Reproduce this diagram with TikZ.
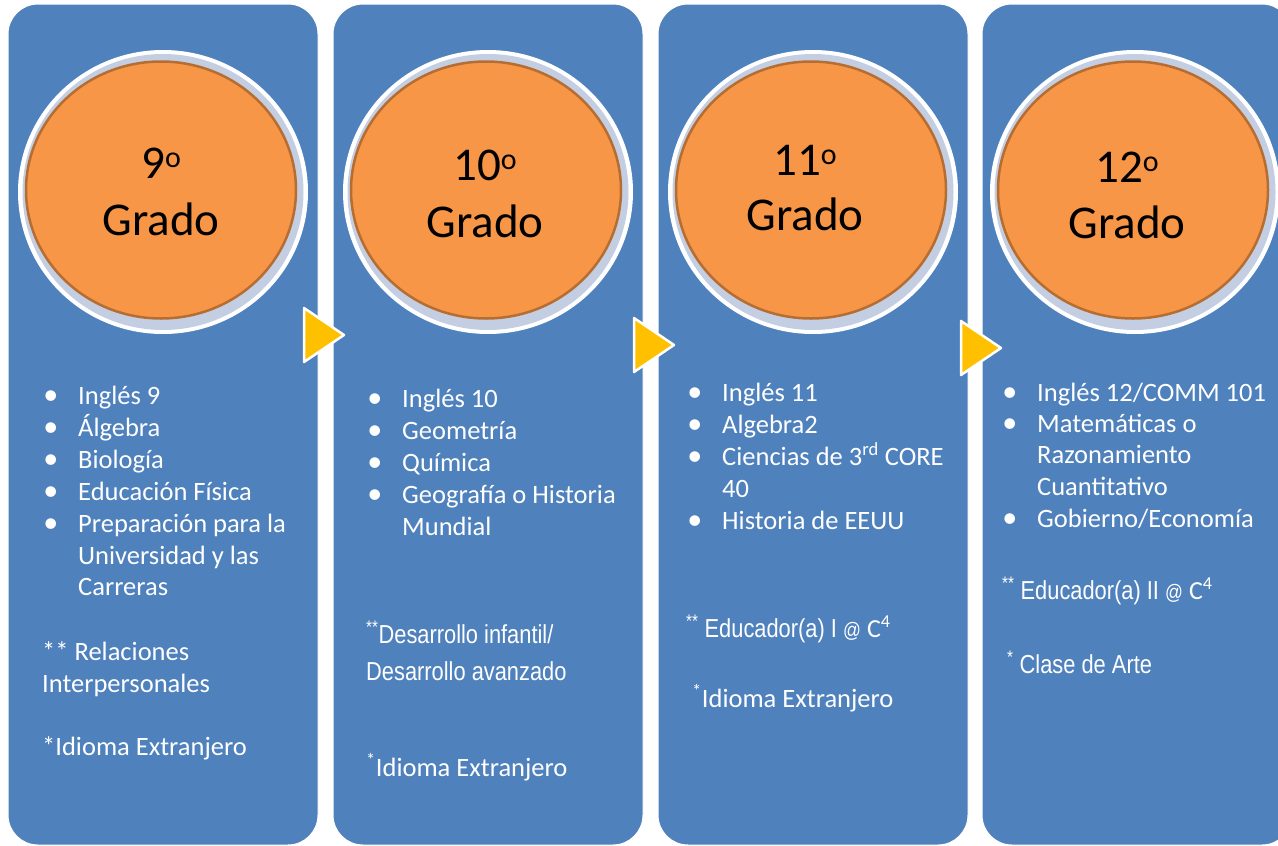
\documentclass[tikz,border=0pt]{standalone}
\usepackage{fontspec}
\setmainfont{Carlito}
\newfontfamily\narrowfont[FakeStretch=0.84]{Liberation Sans}
\usetikzlibrary{shapes.geometric}
\definecolor{colblue}{HTML}{4F81BD}
\definecolor{orangefill}{HTML}{F79646}
\definecolor{orangeedge}{HTML}{B66D31}
\definecolor{ringgray}{HTML}{C3CEE2}
\definecolor{arrowyellow}{HTML}{FFC000}
\newcommand{\bul}{\llap{{\fontsize{30}{30}\selectfont\textbullet}\hspace{20pt}}}
\newcommand{\ordo}{\raisebox{11pt}{\fontsize{30}{30}\selectfont o}}
\begin{document}
\begin{tikzpicture}[x=1pt,y=-1pt,
  colbox/.style={rectangle, fill=colblue, draw=white, line width=1pt, rounded corners=30pt,
    minimum width=310pt, minimum height=841pt, inner sep=0pt},
  whitering/.style={ellipse, fill=white, minimum width=290pt, minimum height=284pt, inner sep=0pt},
  grayring/.style={ellipse, fill=ringgray, minimum width=281pt, minimum height=276pt, inner sep=0pt},
  orangedisc/.style={ellipse, fill=orangefill, draw=orangeedge, line width=2.5pt,
    minimum width=270pt, minimum height=257pt, inner sep=0pt},
  gradetext/.style={anchor=base, inner sep=0pt, text=black, font=\fontsize{47}{57}\selectfont},
  item/.style={anchor=base west, inner sep=0pt, text=white, font=\fontsize{26.5}{30}\selectfont},
  note/.style={anchor=base west, inner sep=0pt, text=white, font=\fontsize{26.5}{30}\selectfont},
  narrownote/.style={anchor=base west, inner sep=0pt, text=white, font=\narrowfont\fontsize{26}{30}\selectfont},
  stepmark/.style={fill=arrowyellow, draw=white, line width=2.5pt, line join=round}
]
\useasboundingbox (0,0) rectangle (1278,846);
\fill[white] (0,0) rectangle (1278,846);
\clip (0,0) rectangle (1278,846);

% columns
\node[colbox] (c1) at (163,424.5) {};
\node[colbox] (c2) at (488,424.5) {};
\node[colbox] (c3) at (813,424.5) {};
\node[colbox] (c4) at (1137,424.5) {};

% circles
\foreach \i/\cx in {1/163, 2/488, 3/813, 4/1135}{
  \node[whitering] (w\i) at (\cx,192) {};
  \node[grayring] (g\i) at (\cx,192) {};
  \node[orangedisc] (o\i) at (\cx-2,190) {};
}

% circle texts
\node[gradetext] (n1) at (161,178) {9\ordo};
\node[gradetext] (gr1) at (161,235) {Grado};
\node[gradetext] (n2) at (485,180) {10\ordo};
\node[gradetext] (gr2) at (485,237) {Grado};
\node[gradetext] (n3) at (805,175) {11\ordo};
\node[gradetext] (gr3) at (805,230) {Grado};
\node[gradetext] (n4) at (1127,182) {12\ordo};
\node[gradetext] (gr4) at (1127,238) {Grado};

% step triangles
\filldraw[stepmark] (304,308) -- (304,362) -- (344,335) -- cycle;
\filldraw[stepmark] (634,318) -- (634,372) -- (674,345) -- cycle;
\filldraw[stepmark] (961,321) -- (961,375) -- (1001,348) -- cycle;

% column 1
\node[item] (a1) at (78,404) {\bul Inglés 9};
\node[item] (a2) at (78,436) {\bul Álgebra};
\node[item] (a3) at (78,468) {\bul Biología};
\node[item] (a4) at (78,500) {\bul Educación Física};
\node[item] (a5) at (78,532) {\bul Preparación para la};
\node[item] (a6) at (78,564) {Universidad y las};
\node[item] (a7) at (78,595) {Carreras};
\node[note] (a8) at (42,660) {** Relaciones};
\node[note] (a9) at (42,692) {Interpersonales};
\node[note] (a10) at (42,755) {*Idioma Extranjero};

% column 2
\node[item] (b1) at (402,407) {\bul Inglés 10};
\node[item] (b2) at (402,439) {\bul Geometría};
\node[item] (b3) at (402,471) {\bul Química};
\node[item] (b4) at (402,503) {\bul Geografía o Historia};
\node[item] (b5) at (402,535) {Mundial};
\node[narrownote] (b6) at (366,643) {\textsuperscript{**}Desarrollo infantil/};
\node[narrownote] (b7) at (366,680) {Desarrollo avanzado};
\node[note] (b8) at (366,776) {\textsuperscript{*}Idioma Extranjero};

% column 3
\node[item] (d1) at (722,401) {\bul Inglés 11};
\node[item] (d2) at (722,433) {\bul Algebra2};
\node[item] (d3) at (722,465) {\bul Ciencias de 3\textsuperscript{rd} CORE};
\node[item] (d4) at (722,497) {40};
\node[item] (d5) at (722,529) {\bul Historia de EEUU};
\node[narrownote] (d6) at (686,637) {\textsuperscript{**} Educador(a) I {\fontsize{21}{21}\selectfont @} {\rmfamily C\textsuperscript{4}}};
\node[note] (d7) at (692,707) {\textsuperscript{*}Idioma Extranjero};

% column 4
\node[item] (e1) at (1037,401) {\bul Inglés 12/COMM 101};
\node[item] (e2) at (1037,432) {\bul Matemáticas o};
\node[item] (e3) at (1037,463) {Razonamiento};
\node[item] (e4) at (1037,495) {Cuantitativo};
\node[item] (e5) at (1037,527) {\bul Gobierno/Economía};
\node[narrownote] (e6) at (1002,599) {\textsuperscript{**} Educador(a) II {\fontsize{21}{21}\selectfont @} {\rmfamily C\textsuperscript{4}}};
\node[narrownote] (e7) at (1007,673) {\textsuperscript{*} Clase de Arte};
\end{tikzpicture}
\end{document}
